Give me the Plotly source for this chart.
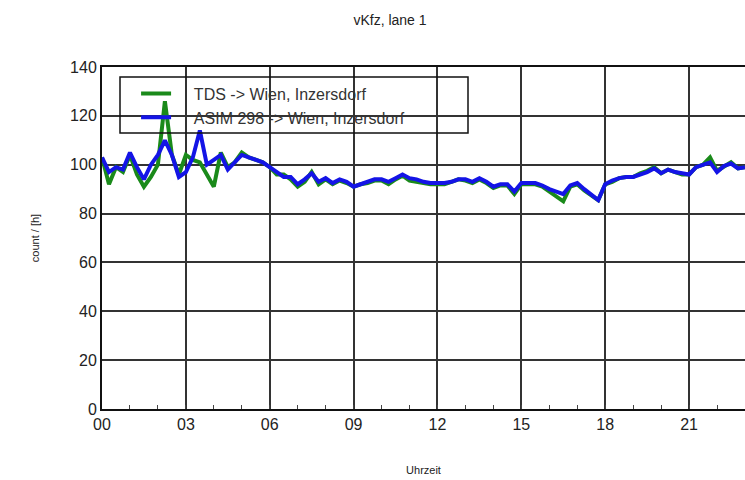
import plotly.graph_objects as go

# quarter-hour time stamps (hours)
hours = [i * 0.25 for i in range(93)]

tds = [103, 92, 99, 97, 104, 96, 91, 95, 100, 126, 104, 96, 104, 102, 101, 96,
       91, 105, 99, 101, 105, 103, 102, 101, 99, 96, 96, 94, 91, 93, 97, 92,
       94, 92, 93.5, 92.5, 91, 92, 92.5, 93.5, 93.5, 92, 94, 95.5, 93.5, 93, 92.5, 92,
       92, 92, 93, 94, 93.5, 92.5, 94, 92.5, 90.5, 91.5, 91.5, 88, 92, 92,
       92, 91, 89, 87, 85, 91, 92, 89.5, 87.5, 85.5, 92, 93, 94.5, 95,
       95, 96.5, 97.5, 99, 96.5, 98, 97, 96, 96, 99, 100, 103, 97.5, 99.5,
       101, 98.5, 99]

asim = [103, 97, 99, 98, 105, 99, 94, 100, 104, 110, 104, 95, 97, 103, 114, 100,
        102, 104, 98, 101, 104, 103, 102, 101, 99, 97, 95, 95, 92, 94, 96.5, 93,
        94.5, 92.5, 94, 93, 91, 92, 93, 94, 94, 93, 94.5, 96, 94.5, 94, 93, 92.5,
        92.5, 92.5, 93, 94, 94, 93, 94.5, 93, 91, 92, 92, 89, 92.5, 92.5,
        92.5, 91.5, 90, 89, 88, 91.5, 92.5, 90, 87.5, 85.5, 92, 93.5, 94.5, 95,
        95, 96, 97, 98.5, 96.5, 98, 97, 96.5, 96, 99, 100, 101, 97, 99.5,
        100.5, 98.5, 99]

series_names = ["TDS -> Wien, Inzersdorf", "ASIM 298 -> Wien, Inzersdorf"]
tick_vals = [0, 3, 6, 9, 12, 15, 18, 21]
tick_text = ["00", "03", "06", "09", "12", "15", "18", "21"]
y_ticks = [0, 20, 40, 60, 80, 100, 120, 140]

FONT = "Liberation Sans, Arial, sans-serif"
PAD = "\u00a0" * 4

fig = go.Figure()
fig.add_trace(go.Scatter(x=hours, y=tds, mode="lines", name=PAD + series_names[0],
                         line=dict(color="#1a8a1a", width=4), legendgroup="a"))
fig.add_trace(go.Scatter(x=hours, y=asim, mode="lines", name=PAD + series_names[1],
                         line=dict(color="#1414e6", width=4), legendgroup="b"))

fig.update_layout(
    width=745, height=480,
    margin=dict(l=102, r=0, t=67, b=71),
    paper_bgcolor="white", plot_bgcolor="white",
    font=dict(family=FONT, color="#222"),
    title=dict(text="vKfz, lane 1", x=390 / 745, xanchor="center", y=1 - 20 / 480,
               yanchor="middle", font=dict(size=14, color="#222")),
    showlegend=True,
    legend=dict(x=0.053, y=0.972, xanchor="left", yanchor="top",
                bgcolor="rgba(0,0,0,0)", borderwidth=0,
                font=dict(size=16, color="#333"), tracegroupgap=0),
    xaxis=dict(range=[0, 23], tickvals=tick_vals, ticktext=tick_text,
               showgrid=True, gridcolor="#333", gridwidth=1.5,
               showline=True, linecolor="#111", linewidth=2, mirror=True,
               ticks="inside", ticklen=0, tickcolor="#111",
               minor=dict(dtick=1, tick0=0, ticks="inside", ticklen=4, tickcolor="#444",
                          showgrid=False),
               tickfont=dict(size=16, color="#222"), zeroline=False,
               title=dict(text="Uhrzeit", font=dict(size=11, color="#222"), standoff=34)),
    yaxis=dict(range=[0, 140], tickvals=y_ticks,
               showgrid=True, gridcolor="#333", gridwidth=1.5,
               showline=True, linecolor="#111", linewidth=2,
               ticks="", tickfont=dict(size=16, color="#222"), zeroline=False,
               title=dict(text="count / [h]", font=dict(size=11, color="#222"), standoff=28)),
    shapes=[dict(type="rect", xref="paper", yref="paper",
                 x0=(120 - 102) / 643, x1=(468 - 102) / 643,
                 y0=(409 - 133) / 342, y1=(409 - 77) / 342,
                 line=dict(color="#111", width=1.5), fillcolor="rgba(0,0,0,0)", layer="above")],
)

fig.write_html("out.html")
